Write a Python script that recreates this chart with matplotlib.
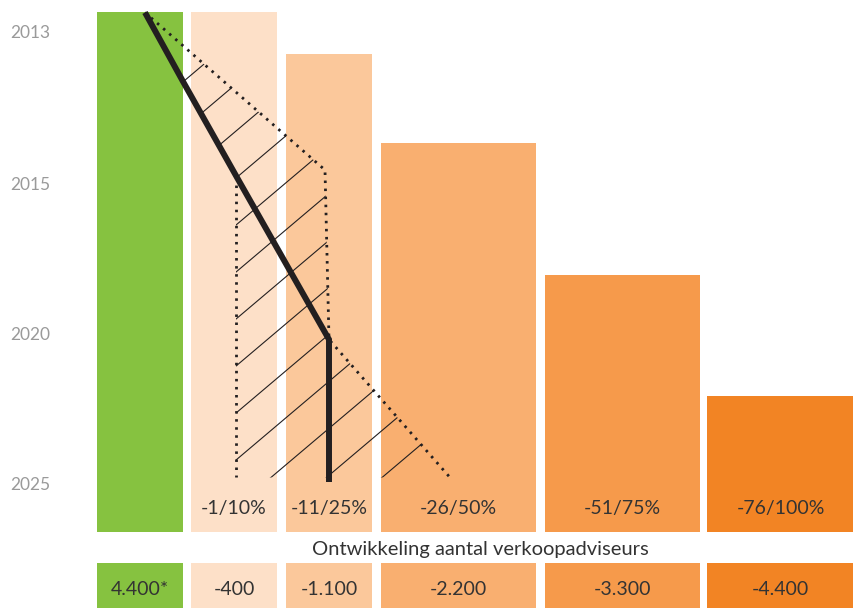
import matplotlib
matplotlib.use("Agg")
import matplotlib.pyplot as plt
import numpy as np
from matplotlib.patches import Polygon

# kolommen: huidige stand + vier krimpscenario's
scenarios = ["huidig", "-1/10%", "-11/25%", "-26/50%", "-51/75%", "-76/100%"]
bar_labels = ["", "-1/10%", "-11/25%", "-26/50%", "-51/75%", "-76/100%"]
counts = ["4.400*", "-400", "-1.100", "-2.200", "-3.300", "-4.400"]
# hoogte van de kolom op de tijdschaal (0 = 2025, 1 = 2020, 2 = 2015, 3 = 2013)
bar_top = [3.15, 3.15, 2.87, 2.28, 1.40, 0.59]
year_labels = ["2025", "2020", "2015", "2013"]
year_pos = [0.0, 1.0, 2.0, 3.01]

# verwachte ontwikkeling (dikke lijn) en bandbreedte (gestippeld)
trend_x = [145, 183, 237, 329, 329]
trend_y = [3.15, 2.69, 2.05, 0.97, 0.02]
band_right_x = [145, 325, 329, 450]
band_right_y = [3.15, 2.10, 0.97, 0.05]
band_left_x = [236, 236]
band_left_y = [2.05, 0.05]

# opmaak
lefts = [97, 191, 286, 381, 545, 707]
widths = [86, 86, 86, 155, 155, 147]
colors = ["#86c240", "#fde0c8", "#fbc89b", "#f9af70", "#f69a4b", "#f28424"]
base = -0.313
ink = "#231f20"
txt = dict(ha="center", va="center", fontsize=14, color="#333333")
plt.rcParams["font.family"] = ["Lato", "DejaVu Sans"]

fig = plt.figure(figsize=(8.54, 6.08), dpi=100)
ax = fig.add_axes([0, 0, 1, 1])
ax.set_xlim(0, 854)
ax.set_ylim(-0.82, 3.2333)
ax.axis("off")

ax.bar(lefts, np.array(bar_top) - base, width=widths, bottom=base,
       align="edge", color=colors, linewidth=0)
ax.bar(lefts, [0.30] * len(lefts), width=widths, bottom=-0.82,
       align="edge", color=colors, linewidth=0)

for x, w, lab, cnt in zip(lefts, widths, bar_labels, counts):
    cx = x + w / 2
    ax.text(cx, -0.16, lab, **txt)
    ax.text(cx, -0.70, cnt, **txt)
ax.text(480, -0.427, "Ontwikkeling aantal verkoopadviseurs",
        **{**txt, "fontsize": 14.5})

for lab, y in zip(year_labels, year_pos):
    ax.text(30, y, lab, ha="center", va="center", fontsize=12.5, color="#9a9a9a")

# gearceerde bandbreedte
poly_x = band_right_x + band_left_x[::-1] + trend_x[2:0:-1]
poly_y = band_right_y + band_left_y[::-1] + trend_y[2:0:-1]
band = Polygon(np.column_stack([poly_x, poly_y]), closed=True,
               facecolor="none", edgecolor="none")
ax.add_patch(band)
xs = np.array([100, 500])
for k in range(-4, 9):
    c = 424.7 + 47 * k
    ln, = ax.plot(xs, (485 - c + 0.846 * xs) / 150, color=ink, lw=0.8)
    ln.set_clip_path(band)

dots = dict(color=ink, lw=2.0, linestyle=(0, (0.9, 2.0)))
ax.plot(band_right_x, band_right_y, **dots)
ax.plot(band_left_x, band_left_y, **dots)
ax.plot(trend_x, trend_y, color=ink, lw=4.3, solid_joinstyle="miter",
        solid_capstyle="butt")

fig.savefig("out.png", dpi=100)
